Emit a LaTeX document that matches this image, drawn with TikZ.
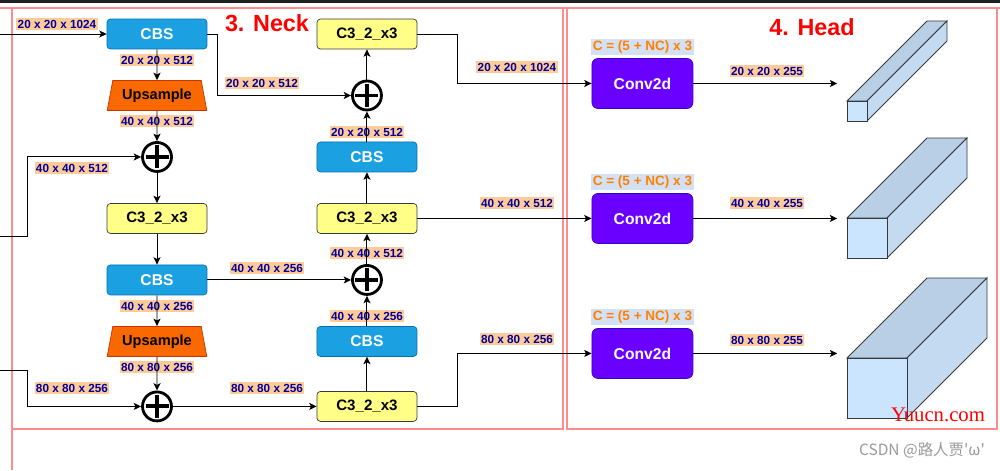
\documentclass[tikz,border=0pt]{standalone}
\usepackage{fontspec}
\setmainfont{Liberation Sans}
\newfontfamily\cjkfont{Noto Sans CJK SC}
\newfontfamily\wmfont{Liberation Serif}
\usetikzlibrary{shapes.geometric, arrows, arrows.meta}
\definecolor{cbsblue}{HTML}{1BA1E2}
\definecolor{cbsline}{HTML}{006EAF}
\definecolor{uporange}{HTML}{FA6800}
\definecolor{upline}{HTML}{C73500}
\definecolor{cyellow}{HTML}{FFFF88}
\definecolor{cline}{HTML}{36393D}
\definecolor{convpurple}{HTML}{6A00FF}
\definecolor{convline}{HTML}{3700CC}
\definecolor{dimfill}{HTML}{FFCC99}
\definecolor{dimtext}{HTML}{000099}
\definecolor{cfill}{HTML}{D4E1F5}
\definecolor{ctext}{HTML}{FF8000}
\definecolor{framered}{HTML}{FF8C8C}
\definecolor{cubefront}{HTML}{CCE5FF}
\definecolor{cubetop}{HTML}{B9CFE5}
\definecolor{cubeside}{HTML}{C3DAF1}
\tikzstyle{cbs} = [rectangle, rounded corners=0.07cm, minimum width=2cm, minimum height=0.6cm, text centered, draw=cbsline, fill=cbsblue, text=white, font=\bfseries\fontsize{8.9}{10}\selectfont]
\tikzstyle{up} = [trapezium, trapezium angle=72, trapezium stretches=true, minimum width=2cm, minimum height=0.6cm, inner sep=0pt, draw=upline, fill=uporange, font=\bfseries\fontsize{8.3}{10}\selectfont]
\tikzstyle{cthree} = [rectangle, rounded corners=0.07cm, minimum width=2cm, minimum height=0.6cm, text centered, draw=cline, fill=cyellow, font=\bfseries\fontsize{8.6}{10}\selectfont]
\tikzstyle{conv} = [rectangle, rounded corners=0.12cm, minimum width=2.02cm, minimum height=1cm, text centered, draw=convline, fill=convpurple, text=white, font=\bfseries\fontsize{8.9}{10}\selectfont]
\tikzstyle{add} = [circle, draw=black, fill=white, line width=1.6pt, minimum size=0.58cm, inner sep=0pt, path picture={\draw[line width=2.2pt] ([yshift=-0.06cm]path picture bounding box.north) -- ([yshift=0.06cm]path picture bounding box.south) ([xshift=0.06cm]path picture bounding box.west) -- ([xshift=-0.06cm]path picture bounding box.east);}]
\tikzstyle{dim} = [fill=dimfill, text=dimtext, inner sep=0.8pt, font=\bfseries\fontsize{6.7}{7}\selectfont]
\tikzstyle{cnum} = [fill=cfill, text=ctext, inner sep=1pt, font=\bfseries\fontsize{7.7}{9}\selectfont]
\tikzstyle{title} = [text=red, font=\bfseries\fontsize{13.3}{15}\selectfont]
\tikzstyle{frame} = [draw=framered, line width=0.9pt]
\tikzstyle{arrow} = [line width=0.55pt, ->, >={Stealth[length=4.2pt, width=4pt, inset=1pt]}]
\tikzstyle{cube} = [draw=cline, line width=0.5pt]

\begin{document}
\begin{tikzpicture}[x=0.02cm, y=-0.02cm, node distance=1.23cm]
\useasboundingbox (0,0) rectangle (1000,470);
% frames
\fill[black!88] (0,0) rectangle (1000,3);
\draw[frame] (0,8) -- (1000,8);
\draw[frame] (12,8) rectangle (563,429);
\draw[frame] (567,8) rectangle (997,429);
\draw[frame] (12,429) -- (12,470);
\node (neck) [title] at (267,23) {3. Neck};
\node (head) [title] at (812,27) {4. Head};

% left column
\node (cbs1) [cbs] at (157,34) {CBS};
\node (up1) [up, below of=cbs1] {Upsample};
\node (cat1) [add, below of=up1] {};
\node (c3a) [cthree, below of=cat1] {C3\_2\_x3};
\node (cbs2) [cbs, below of=c3a] {CBS};
\node (up2) [up, below of=cbs2] {Upsample};
\node (cat2) [add, below of=up2, yshift=-0.07cm] {};

% middle column
\node (c3d) [cthree, node distance=4.2cm, right of=cbs1] {C3\_2\_x3};
\node (cat4) [add, below of=c3d] {};
\node (cbs4) [cbs, below of=cat4] {CBS};
\node (c3c) [cthree, below of=cbs4] {C3\_2\_x3};
\node (cat3) [add, below of=c3c] {};
\node (cbs3) [cbs, below of=cat3] {CBS};
\node (c3b) [cthree, below of=cbs3, yshift=-0.07cm] {C3\_2\_x3};

% head
\node (conv2) [conv, node distance=5.51cm, right of=c3c] {Conv2d};
\node (conv1) [conv, node distance=2.7cm, above of=conv2] {Conv2d};
\node (conv3) [conv, node distance=2.7cm, below of=conv2] {Conv2d};
\node (cn1) [cnum, node distance=0.73cm, above of=conv1] {C = (5 + NC) x 3};
\node (cn2) [cnum, node distance=0.73cm, above of=conv2] {C = (5 + NC) x 3};
\node (cn3) [cnum, node distance=0.73cm, above of=conv3] {C = (5 + NC) x 3};

% sizes
\node (d1) [dim] at (57,24) {20 x 20 x 1024};
\node (d2) [dim] at (157,60) {20 x 20 x 512};
\node (d3) [dim] at (157,121) {40 x 40 x 512};
\node (d4) [dim] at (72,168) {40 x 40 x 512};
\node (d5) [dim] at (157,306) {40 x 40 x 256};
\node (d6) [dim] at (157,367) {80 x 80 x 256};
\node (d7) [dim] at (72,388) {80 x 80 x 256};
\node (d8) [dim] at (262,83) {20 x 20 x 512};
\node (d9) [dim] at (267,268) {40 x 40 x 256};
\node (d10) [dim] at (267,388) {80 x 80 x 256};
\node (d11) [dim] at (367,132) {20 x 20 x 512};
\node (d12) [dim] at (367,253) {40 x 40 x 512};
\node (d13) [dim] at (367,316) {40 x 40 x 256};
\node (d14) [dim] at (517,67) {20 x 20 x 1024};
\node (d15) [dim] at (517,203) {40 x 40 x 512};
\node (d16) [dim] at (517,339) {80 x 80 x 256};
\node (d17) [dim] at (767,71) {20 x 20 x 255};
\node (d18) [dim] at (767,203) {40 x 40 x 255};
\node (d19) [dim] at (767,340) {80 x 80 x 255};

% inputs and outputs
\coordinate (inA) at (0,34);
\coordinate (inB) at (0,236);
\coordinate (inC) at (0,370);
\coordinate (out1) at ([xshift=2.88cm]conv1.east);
\coordinate (out2) at ([xshift=2.88cm]conv2.east);
\coordinate (out3) at ([xshift=2.88cm]conv3.east);

\draw [arrow] (inA) -- (cbs1);
\draw [arrow] (cbs1) -- (up1);
\draw [arrow] (up1) -- (cat1);
\draw [arrow] (inB) -- ++(27,0) |- (cat1);
\draw [arrow] (cat1) -- (c3a);
\draw [arrow] (c3a) -- (cbs2);
\draw [arrow] (cbs2) -- (up2);
\draw [arrow] (up2) -- (cat2);
\draw [arrow] (inC) -- ++(27,0) |- (cat2);
\draw [arrow] (cat2) -- (c3b);
\draw [arrow] (c3b) -- (cbs3);
\draw [arrow] (cbs3) -- (cat3);
\draw [arrow] (cbs2) -- (cat3);
\draw [arrow] (cat3) -- (c3c);
\draw [arrow] (c3c) -- (cbs4);
\draw [arrow] (cbs4) -- (cat4);
\draw [arrow] (cbs1.east) -- ++(10,0) |- (cat4);
\draw [arrow] (cat4) -- (c3d);
\draw [arrow] (c3d.east) -- ++(40,0) |- (conv1);
\draw [arrow] (c3c) -- (conv2);
\draw [arrow] (c3b.east) -- ++(40,0) |- (conv3);
\draw [arrow] (conv1) -- (out1);
\draw [arrow] (conv2) -- (out2);
\draw [arrow] (conv3) -- (out3);

% output tensors
\foreach \y/\s in {101/20, 218/40, 358/60} {
  \filldraw[cube, fill=cubetop] (847,\y) -- ++(80,-80) -- ++(\s,0) -- ++(-80,80) -- cycle;
  \filldraw[cube, fill=cubeside] (847+\s,\y) -- ++(80,-80) -- ++(0,\s) -- ++(-80,80) -- cycle;
  \filldraw[cube, fill=cubefront] (847,\y) rectangle ++(\s,\s);
}

\node (wm1) [text=red, font=\wmfont\fontsize{11.8}{13}\selectfont] at (938,415) {Yuucn.com};
\node (wm2) [text=black!40, font=\cjkfont\fontsize{8.8}{10}\selectfont] at (922,450) {CSDN @路人贾\textquotesingle ω\textquotesingle};
\end{tikzpicture}
\end{document}
